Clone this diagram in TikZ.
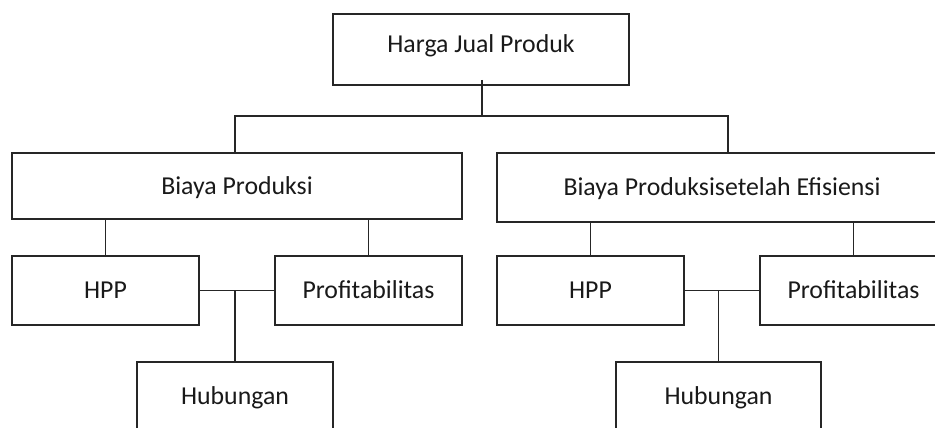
\documentclass[tikz,border=0pt]{standalone}
\usepackage{fontspec}
\setmainfont{Carlito}
\begin{document}
\begin{tikzpicture}[x=1pt,y=-1pt,
  box/.style={draw=black!85,line width=1.8pt,rectangle,inner sep=0pt,
    minimum height=69pt,text height=16.5pt,text depth=0pt,text=black!90,
    font=\fontsize{25.8}{30}\selectfont},
  link/.style={draw=black!85,line width=1.8pt}]
\useasboundingbox (0,0) rectangle (935,428);
\clip (0,0) rectangle (935,428);
\node[box,minimum width=296pt,minimum height=71pt,text depth=10pt] (top) at (481,49.5) {Harga Jual Produk};
\node[box,minimum width=450pt,minimum height=66pt] (bp) at (237,186) {Biaya Produksi};
\node[box,minimum width=450pt] (bpe) at (722,187.5) {Biaya Produksisetelah Efisiensi};
\node[box,minimum width=187pt] (hppa) at (105.5,290.5) {HPP};
\node[box,minimum width=187pt] (profa) at (368.5,290.5) {Profitabilitas};
\node[box,minimum width=196pt] (huba) at (235,396.5) {Hubungan};
\node[box,minimum width=187pt] (hppb) at (590.5,290.5) {HPP};
\node[box,minimum width=187pt] (profb) at (853.5,290.5) {Profitabilitas};
\node[box,minimum width=205pt] (hubb) at (718.5,396.5) {Hubungan};
\coordinate (j0) at (482,116);
\coordinate (jL) at (235,116);
\coordinate (jR) at (728,116);
\draw[link] ([yshift=6pt]j0 |- top.south) -- ([yshift=-1pt]j0);
\draw[link] (jL |- bp.north) -- (jL) -- (jR) -- (jR |- bpe.north);
\draw[link] (hppa.north) -- (hppa.north |- bp.south);
\draw[link] (profa.north) -- (profa.north |- bp.south);
\draw[link] (hppa.east) -- (profa.west);
\draw[link] (huba.north) -- (huba.north |- hppa.east);
\draw[link] (hppb.north) -- (hppb.north |- bpe.south);
\draw[link] (profb.north) -- (profb.north |- bpe.south);
\draw[link] (hppb.east) -- (profb.west);
\draw[link] (hubb.north) -- (hubb.north |- hppb.east);
\end{tikzpicture}
\end{document}
